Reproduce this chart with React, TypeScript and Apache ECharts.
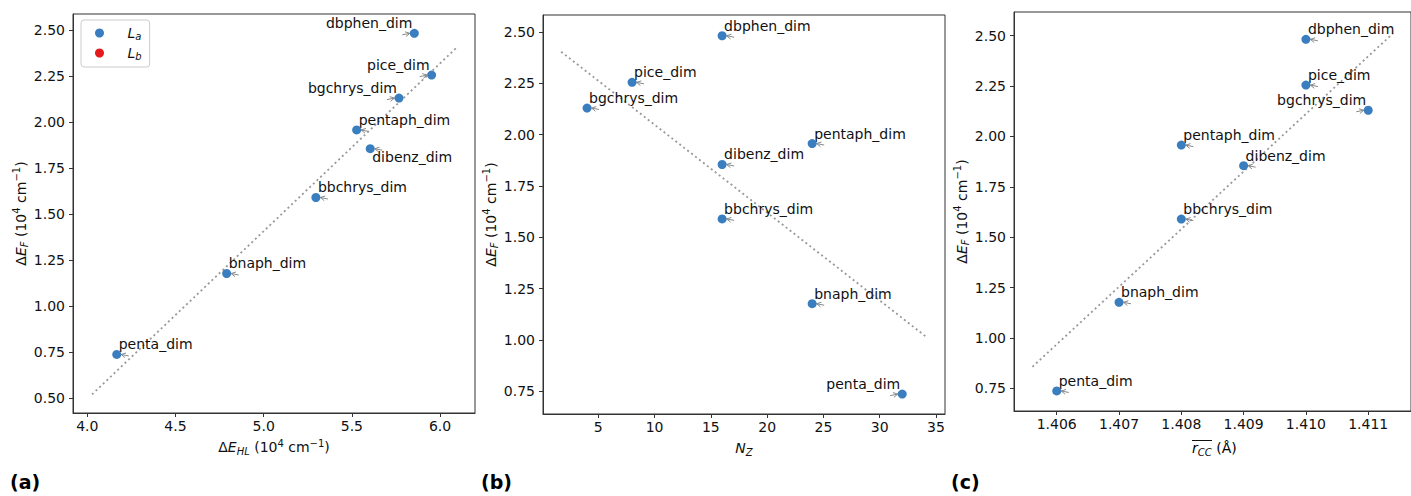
import React, { useEffect, useRef } from "react";
import * as echarts from "echarts";

// ---- data ----
const names = ["dbphen_dim", "pice_dim", "bgchrys_dim", "pentaph_dim", "dibenz_dim", "bbchrys_dim", "bnaph_dim", "penta_dim"];
const deltaEF = [2.482, 2.255, 2.130, 1.957, 1.855, 1.590, 1.177, 0.737];
const deltaEHL = [5.854, 5.952, 5.767, 5.527, 5.604, 5.296, 4.790, 4.167];
const nZ = [16, 8, 4, 24, 16, 16, 24, 32];
const rCC = [1.410, 1.410, 1.411, 1.408, 1.409, 1.408, 1.407, 1.406];

// fitted trend lines (end points)
const fitAX = [4.027, 6.10];
const fitAY = [0.52, 2.41];
const fitBX = [1.7, 34.2];
const fitBY = [2.404, 1.013];
const fitCX = [1.40561, 1.4114];
const fitCY = [0.857, 2.512];

// tick values
const ticksAX = [4.0, 4.5, 5.0, 5.5, 6.0];
const ticksAY = [0.5, 0.75, 1.0, 1.25, 1.5, 1.75, 2.0, 2.25, 2.5];
const ticksBX = [5, 10, 15, 20, 25, 30, 35];
const ticksBY = [0.75, 1.0, 1.25, 1.5, 1.75, 2.0, 2.25, 2.5];
const ticksCX = [1.406, 1.407, 1.408, 1.409, 1.41, 1.411];
const ticksCY = [0.75, 1.0, 1.25, 1.5, 1.75, 2.0, 2.25, 2.5];

const legendNames = ["La", "Lb"];

// ---- styles ----
const placeA = ["ul", "ul", "ul", "ur", "dr", "ur", "ur", "ur"];
const placeB = ["ur", "ur", "ur", "ur", "ur", "ur", "ur", "ul"];
const placeC = ["ur", "ur", "ul", "ur", "ur", "ur", "ur", "ur"];

const FONT = "DejaVu Sans";
const BLUE = "#3a7ebf";
const RED = "#e41a1c";
const AX = "#333";
const TXT = "#111";

const rich = {
  n: { fontFamily: FONT, fontSize: 14, color: TXT, lineHeight: 18 },
  i: { fontFamily: FONT, fontSize: 14, color: TXT, fontStyle: "italic", lineHeight: 18 },
  sub: { fontFamily: FONT, fontSize: 10, color: TXT, lineHeight: 10, verticalAlign: "bottom" },
  isub: { fontFamily: FONT, fontSize: 10, color: TXT, fontStyle: "italic", lineHeight: 10, verticalAlign: "bottom" },
  sup: { fontFamily: FONT, fontSize: 10, color: TXT, lineHeight: 10, verticalAlign: "top" },
};

const efName = "{n|Δ}{i|E}{isub|F}{n| (10}{sup|4}{n| cm}{sup|−1}{n|)}";

function xAxis(gridIndex, min, max, ticks, digits, name, nameGap = 25) {
  return {
    type: "value",
    gridIndex,
    min,
    max,
    name,
    nameLocation: "middle",
    nameGap,
    nameTextStyle: { fontFamily: FONT, fontSize: 14, color: TXT, rich },
    splitLine: { show: false },
    axisLine: { show: true, lineStyle: { color: AX, width: 1 } },
    axisTick: { show: true, length: 4, lineStyle: { color: AX }, customValues: ticks },
    axisLabel: {
      show: true,
      margin: 6,
      fontFamily: FONT,
      fontSize: 14,
      color: TXT,
      customValues: ticks,
      formatter: (v) => Number(v).toFixed(digits),
    },
  };
}

function yAxis(gridIndex, min, max, ticks, name, nameGap = 42) {
  return {
    type: "value",
    gridIndex,
    min,
    max,
    name,
    nameLocation: "middle",
    nameRotate: 90,
    nameGap,
    nameTextStyle: { fontFamily: FONT, fontSize: 14, color: TXT, rich },
    splitLine: { show: false },
    axisLine: { show: true, lineStyle: { color: AX, width: 1 } },
    axisTick: { show: true, length: 4, lineStyle: { color: AX }, customValues: ticks },
    axisLabel: {
      show: true,
      margin: 8,
      fontFamily: FONT,
      fontSize: 14,
      color: TXT,
      customValues: ticks,
      formatter: (v) => Number(v).toFixed(2),
    },
  };
}

function fitSeries(idx, xs, ys) {
  return {
    type: "line",
    xAxisIndex: idx,
    yAxisIndex: idx,
    data: xs.map((x, i) => [x, ys[i]]),
    symbol: "none",
    silent: true,
    z: 2,
    lineStyle: { color: "#999", width: 1.8, type: [2, 3] },
  };
}

function scatterSeries(idx, xs, ys) {
  return {
    type: "scatter",
    name: "La",
    xAxisIndex: idx,
    yAxisIndex: idx,
    data: xs.map((x, i) => [x, ys[i]]),
    symbol: "circle",
    symbolSize: 9,
    itemStyle: { color: BLUE, opacity: 1 },
    z: 4,
  };
}

function labelSeries(idx, xs, ys, place) {
  return {
    type: "custom",
    xAxisIndex: idx,
    yAxisIndex: idx,
    clip: false,
    silent: true,
    z: 3,
    data: xs.map((x, i) => [x, ys[i], i]),
    encode: { x: 0, y: 1 },
    renderItem: (params, api) => {
      const i = api.value(2);
      const pt = api.coord([api.value(0), api.value(1)]);
      const px = pt[0];
      const py = pt[1];
      const p = place[i];
      const right = p !== "ul";
      const tx = right ? px + 2 : px - 2;
      const ty = p === "dr" ? py + 8 : py - 10;
      const s = right ? 1 : -1;
      const tail = [px + s * 12, py + 1.5];
      const tip = [px + s * 4.5, py];
      const ang = Math.atan2(tip[1] - tail[1], tip[0] - tail[0]);
      const hl = 5;
      const ha = 0.5;
      const h1 = [tip[0] - hl * Math.cos(ang - ha), tip[1] - hl * Math.sin(ang - ha)];
      const h2 = [tip[0] - hl * Math.cos(ang + ha), tip[1] - hl * Math.sin(ang + ha)];
      return {
        type: "group",
        children: [
          { type: "polyline", shape: { points: [tail, tip] }, style: { stroke: "#888", lineWidth: 1, fill: null } },
          { type: "polyline", shape: { points: [h1, tip, h2] }, style: { stroke: "#888", lineWidth: 1, fill: null } },
          {
            type: "text",
            style: {
              text: names[i],
              x: tx,
              y: ty,
              align: right ? "left" : "right",
              verticalAlign: "middle",
              font: `14px "${FONT}"`,
              fill: TXT,
            },
          },
        ],
      };
    },
  };
}

export default function App() {
  const ref = useRef(null);
  useEffect(() => {
    const chart = echarts.init(ref.current, null, { renderer: "svg" });
    const gridCommon = { show: true, borderColor: AX, borderWidth: 1, backgroundColor: "transparent", containLabel: false };
    const option = {
      animation: false,
      backgroundColor: "#fff",
      textStyle: { fontFamily: FONT },
      grid: [
        { ...gridCommon, left: 73, top: 14, width: 402, height: 399 },
        { ...gridCommon, left: 543, top: 15, width: 402, height: 399 },
        { ...gridCommon, left: 1014, top: 12, width: 402, height: 399 },
      ],
      legend: {
        show: true,
        data: legendNames,
        orient: "vertical",
        left: 81,
        top: 20,
        padding: [6, 8, 6, 14],
        itemGap: 5,
        itemWidth: 24,
        itemHeight: 9,
        icon: "circle",
        backgroundColor: "#fff",
        borderColor: "#ccc",
        borderWidth: 1,
        borderRadius: 3,
        itemStyle: { opacity: 1 },
        formatter: (n) => (n === "La" ? "{i|L}{sub|a}" : "{i|L}{sub|b}"),
        textStyle: {
          padding: [0, 0, 0, 11],
          rich: {
            i: { fontFamily: FONT, fontSize: 14, color: TXT, fontStyle: "italic", lineHeight: 16 },
            sub: { fontFamily: FONT, fontSize: 10, color: TXT, fontStyle: "italic", lineHeight: 10, verticalAlign: "bottom" },
          },
        },
      },
      xAxis: [
        xAxis(0, 3.919, 6.198, ticksAX, 1, "{n|Δ}{i|E}{isub|HL}{n| (10}{sup|4}{n| cm}{sup|−1}{n|)}"),
        xAxis(1, 0.087, 35.8, ticksBX, 0, "{i|N}{isub|Z}"),
        xAxis(2, 1.405314, 1.411687, ticksCX, 3, ""),
      ],
      yAxis: [
        yAxis(0, 0.419, 2.587, ticksAY, efName),
        yAxis(1, 0.64, 2.583, ticksBY, efName),
        yAxis(2, 0.6376, 2.6176, ticksCY, efName),
      ],
      series: [
        fitSeries(0, fitAX, fitAY),
        fitSeries(1, fitBX, fitBY),
        fitSeries(2, fitCX, fitCY),
        labelSeries(0, deltaEHL, deltaEF, placeA),
        labelSeries(1, nZ, deltaEF, placeB),
        labelSeries(2, rCC, deltaEF, placeC),
        scatterSeries(0, deltaEHL, deltaEF),
        scatterSeries(1, nZ, deltaEF),
        scatterSeries(2, rCC, deltaEF),
        { type: "scatter", name: "Lb", xAxisIndex: 0, yAxisIndex: 0, data: [], itemStyle: { color: RED, opacity: 1 } },
      ],
      graphic: [
        { type: "text", left: 10, top: 472, style: { text: "(a)", font: `bold 19px "${FONT}"`, fill: "#000" } },
        { type: "text", left: 481, top: 472, style: { text: "(b)", font: `bold 19px "${FONT}"`, fill: "#000" } },
        { type: "text", left: 951, top: 472, style: { text: "(c)", font: `bold 19px "${FONT}"`, fill: "#000" } },
        // x-axis title of panel (c) with overline over r_CC
        {
          type: "text",
          x: 1192,
          y: 448,
          style: {
            text: "{i|r}{isub|CC}{n| (Å)}",
            rich,
            align: "left",
            verticalAlign: "middle",
          },
        },
        { type: "line", shape: { x1: 1192, y1: 440.5, x2: 1212, y2: 440.5 }, style: { stroke: TXT, lineWidth: 1 } },
      ],
    };
    chart.setOption(option);
    return () => chart.dispose();
  }, []);
  return <div ref={ref} style={{ position: "absolute", left: 0, top: 0, width: 1411, height: 496 }} />;
}
